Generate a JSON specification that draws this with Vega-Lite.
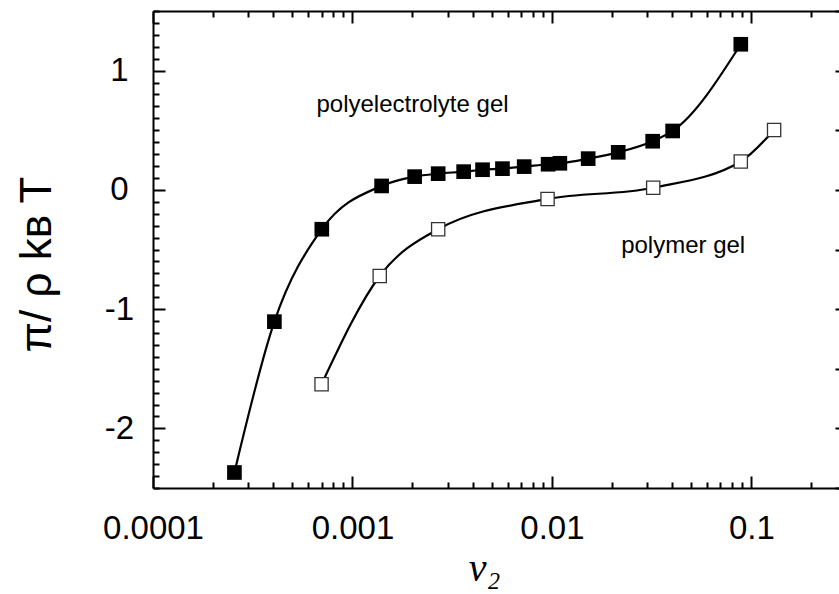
{
  "$schema": "https://vega.github.io/schema/vega-lite/v6.json",
  "width": 686,
  "height": 477,
  "autosize": {"type": "none"},
  "padding": {"left": 153, "top": 11, "right": 0, "bottom": 106},
  "background": "white",
  "config": {
    "view": {"stroke": null},
    "axis": {
      "domainColor": "black", "domainWidth": 2, "tickColor": "black", "tickWidth": 2,
      "labelColor": "black", "titleColor": "black", "grid": false,
      "labelFont": "Liberation Sans", "titleFont": "Liberation Sans", "labelFlush": false, "labelOverlap": false
    }
  },
  "datasets": {
    "pts": [
      {"series": "polyelectrolyte", "v": 0.000256, "p": -2.37},
      {"series": "polyelectrolyte", "v": 0.000406, "p": -1.105},
      {"series": "polyelectrolyte", "v": 0.000702, "p": -0.33},
      {"series": "polyelectrolyte", "v": 0.00140, "p": 0.033},
      {"series": "polyelectrolyte", "v": 0.00205, "p": 0.111},
      {"series": "polyelectrolyte", "v": 0.00269, "p": 0.136},
      {"series": "polyelectrolyte", "v": 0.00361, "p": 0.153},
      {"series": "polyelectrolyte", "v": 0.00449, "p": 0.169},
      {"series": "polyelectrolyte", "v": 0.00565, "p": 0.178},
      {"series": "polyelectrolyte", "v": 0.00726, "p": 0.195},
      {"series": "polyelectrolyte", "v": 0.00957, "p": 0.215},
      {"series": "polyelectrolyte", "v": 0.01096, "p": 0.223},
      {"series": "polyelectrolyte", "v": 0.0152, "p": 0.262},
      {"series": "polyelectrolyte", "v": 0.0215, "p": 0.315},
      {"series": "polyelectrolyte", "v": 0.0320, "p": 0.408},
      {"series": "polyelectrolyte", "v": 0.0403, "p": 0.494},
      {"series": "polyelectrolyte", "v": 0.0885, "p": 1.221},
      {"series": "polymer", "v": 0.000700, "p": -1.63},
      {"series": "polymer", "v": 0.00137, "p": -0.722},
      {"series": "polymer", "v": 0.00269, "p": -0.33},
      {"series": "polymer", "v": 0.00951, "p": -0.076},
      {"series": "polymer", "v": 0.0322, "p": 0.018},
      {"series": "polymer", "v": 0.0885, "p": 0.238},
      {"series": "polymer", "v": 0.130, "p": 0.502}
    ],
    "labels": [
      {"v": 0.0020, "p": 0.657, "text": "polyelectrolyte gel"},
      {"v": 0.0455, "p": -0.529, "text": "polymer gel"}
    ]
  },
  "layer": [
    {
      "data": {"name": "pts"},
      "transform": [{"filter": "datum.series === 'polyelectrolyte'"}],
      "mark": {"type": "line", "interpolate": "monotone", "color": "black", "strokeWidth": 2.2},
      "encoding": {
        "x": {"field": "v", "type": "quantitative",
          "scale": {"type": "log", "domain": [0.0001, 0.275], "nice": false},
          "axis": {"orient": "bottom", "values": [0.0001, 0.001, 0.01, 0.1], "format": "~g",
            "tickSize": -12, "labelFontSize": 33, "labelPadding": 36, "labelAlign": "center", "labelBaseline": "top",
            "title": "v₂", "titleFont": "Liberation Serif", "titleFontStyle": "italic", "titleFontWeight": "normal",
            "titleFontSize": 40, "titleX": 331, "titleY": 92, "titleBaseline": "alphabetic", "titleAlign": "center"}},
        "y": {"field": "p", "type": "quantitative",
          "scale": {"domain": [-2.5, 1.5], "nice": false, "zero": false},
          "axis": {"orient": "left", "values": [-2, -1, 0, 1], "labelExpr": "toString(datum.value)",
            "tickSize": -12, "labelFontSize": 33, "labelPadding": 46, "labelAlign": "center", "labelBaseline": "middle",
            "title": "π/ ρ kʙ T", "titleFontSize": 44, "titleFontWeight": "normal", "titleAngle": -90,
            "titleX": -103, "titleY": 253, "titleAlign": "center", "titleBaseline": "alphabetic"}}
      }
    },
    {
      "data": {"name": "pts"},
      "transform": [{"filter": "datum.series === 'polymer'"}],
      "mark": {"type": "line", "interpolate": "monotone", "color": "black", "strokeWidth": 2.2},
      "encoding": {
        "x": {"field": "v", "type": "quantitative",
          "scale": {"type": "log", "domain": [0.0001, 0.275], "nice": false},
          "axis": {"orient": "bottom", "values": [0.0002, 0.0003, 0.0004, 0.0005, 0.0006, 0.0007, 0.0008, 0.0009, 0.002, 0.003, 0.004, 0.005, 0.006, 0.007, 0.008, 0.009, 0.02, 0.03, 0.04, 0.05, 0.06, 0.07, 0.08, 0.09, 0.2],
            "tickSize": -6, "labels": false, "domain": false, "title": null}},
        "y": {"field": "p", "type": "quantitative",
          "scale": {"domain": [-2.5, 1.5], "nice": false, "zero": false},
          "axis": {"orient": "left", "values": [-2.5, -2.4, -2.3, -2.2, -2.1, -1.9, -1.8, -1.7, -1.6, -1.5, -1.4, -1.3, -1.2, -1.1, -0.9, -0.8, -0.7, -0.6, -0.5, -0.4, -0.3, -0.2, -0.1, 0.1, 0.2, 0.3, 0.4, 0.5, 0.6, 0.7, 0.8, 0.9, 1.1, 1.2, 1.3, 1.4, 1.5],
            "tickSize": -6, "labels": false, "domain": false, "title": null}}
      }
    },
    {
      "mark": {"type": "rule", "color": "black", "strokeWidth": 1.5, "strokeDash": [2, 7]},
      "encoding": {
        "y": {"datum": 0, "type": "quantitative", "scale": {"domain": [-2.5, 1.5], "nice": false, "zero": false}, "axis": null}
      }
    },
    {
      "data": {"name": "pts"},
      "transform": [{"filter": "datum.series === 'polyelectrolyte'"}],
      "mark": {"type": "point", "shape": "square", "filled": true, "color": "black", "size": 215, "opacity": 1},
      "encoding": {
        "x": {"field": "v", "type": "quantitative",
          "scale": {"type": "log", "domain": [0.0001, 0.275], "nice": false},
          "axis": {"orient": "top", "values": [0.0001, 0.001, 0.01, 0.1], "tickSize": -12, "labels": false, "domain": true, "title": null}},
        "y": {"field": "p", "type": "quantitative",
          "scale": {"domain": [-2.5, 1.5], "nice": false, "zero": false},
          "axis": {"orient": "right", "values": [-2.5, -2, -1.5, -1, -0.5, 0, 0.5, 1, 1.5], "tickSize": -4, "labels": false, "domain": false, "title": null}}
      }
    },
    {
      "data": {"name": "pts"},
      "transform": [{"filter": "datum.series === 'polymer'"}],
      "mark": {"type": "point", "shape": "square", "filled": true, "fill": "white", "stroke": "#333333", "strokeWidth": 1.3, "size": 175, "opacity": 1},
      "encoding": {
        "x": {"field": "v", "type": "quantitative",
          "scale": {"type": "log", "domain": [0.0001, 0.275], "nice": false},
          "axis": {"orient": "top", "values": [0.0002, 0.0003, 0.0004, 0.0005, 0.0006, 0.0007, 0.0008, 0.0009, 0.002, 0.003, 0.004, 0.005, 0.006, 0.007, 0.008, 0.009, 0.02, 0.03, 0.04, 0.05, 0.06, 0.07, 0.08, 0.09, 0.2],
            "tickSize": -6, "labels": false, "domain": false, "title": null}},
        "y": {"field": "p", "type": "quantitative",
          "scale": {"domain": [-2.5, 1.5], "nice": false, "zero": false}, "axis": null}
      }
    },
    {
      "data": {"name": "labels"},
      "mark": {"type": "text", "font": "Liberation Sans", "fontSize": 24, "color": "black", "align": "center", "baseline": "alphabetic"},
      "encoding": {
        "x": {"field": "v", "type": "quantitative", "scale": {"type": "log", "domain": [0.0001, 0.275], "nice": false}, "axis": null},
        "y": {"field": "p", "type": "quantitative", "scale": {"domain": [-2.5, 1.5], "nice": false, "zero": false}, "axis": null},
        "text": {"field": "text"}
      }
    }
  ],
  "resolve": {"scale": {"x": "shared", "y": "shared"}, "axis": {"x": "independent", "y": "independent"}}
}
